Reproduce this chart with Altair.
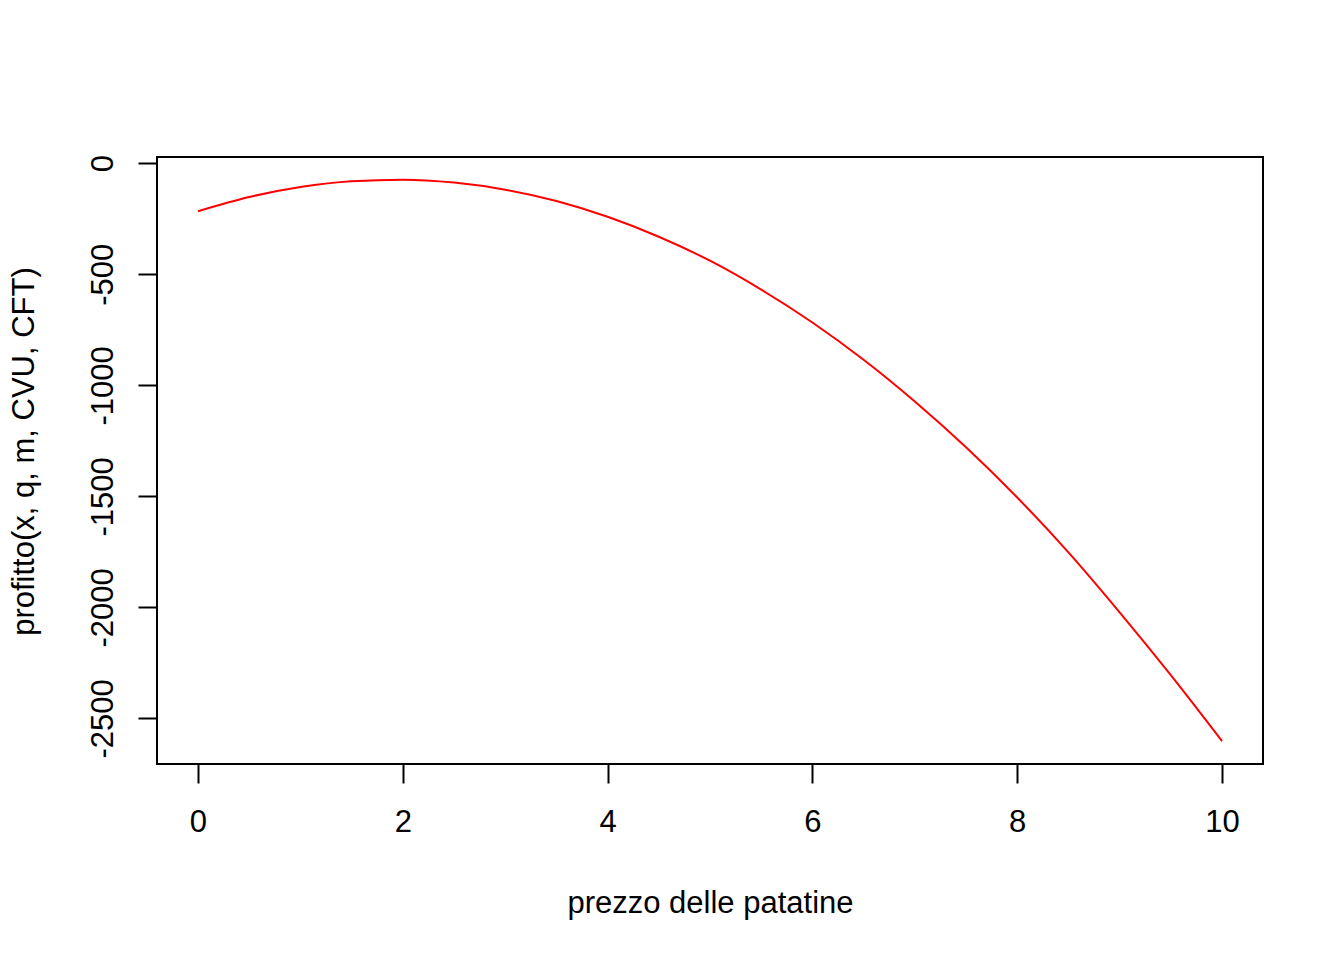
import altair as alt
import pandas as pd

# prezzo (x) and profit
prezzo = [0, 0.5, 1, 1.5, 2, 2.5, 3, 3.5, 4, 4.5, 5, 5.5, 6, 6.5, 7, 7.5, 8, 8.5, 9, 9.5, 10]
profitto = [-216, -152, -107, -81, -74, -87, -119, -170, -241, -331, -439,
            -569, -717, -885, -1073, -1279, -1505, -1752, -2022, -2305, -2602]

x_ticks = [0, 2, 4, 6, 8, 10]
y_ticks = [0, -500, -1000, -1500, -2000, -2500]

df = pd.DataFrame({"prezzo": prezzo, "profitto": profitto})

FONT = "Liberation Sans"
FS = 31

chart = (
    alt.Chart(df)
    .mark_line(color="#FF0000", strokeWidth=2, interpolate="monotone")
    .encode(
        x=alt.X(
            "prezzo:Q",
            scale=alt.Scale(domain=[-0.4, 10.4], nice=False, zero=False),
            axis=alt.Axis(
                values=x_ticks,
                labelExpr="'' + datum.value",
                title="prezzo delle patatine",
                domain=False,
                grid=False,
                tickSize=19,
                tickWidth=2,
                tickColor="black",
                labelPadding=48,
                labelBaseline="alphabetic",
                labelFlush=False,
                labelOverlap=False,
                labelFont=FONT,
                labelFontSize=FS,
                labelColor="black",
                titleFont=FONT,
                titleFontSize=FS,
                titleFontWeight="normal",
                titleColor="black",
                titleX=553,
                titleY=148,
                titleBaseline="alphabetic",
                titleAlign="center",
            ),
        ),
        y=alt.Y(
            "profitto:Q",
            scale=alt.Scale(domain=[-2705, 28], nice=False, zero=False),
            axis=alt.Axis(
                values=y_ticks,
                labelExpr="'' + datum.value",
                title="profitto(x, q, m, CVU, CFT)",
                domain=False,
                grid=False,
                tickSize=19,
                tickWidth=2,
                tickColor="black",
                labelAngle=270,
                labelAlign="center",
                labelBaseline="alphabetic",
                labelPadding=26,
                labelFlush=False,
                labelOverlap=False,
                labelFont=FONT,
                labelFontSize=FS,
                labelColor="black",
                titleFont=FONT,
                titleFontSize=FS,
                titleFontWeight="normal",
                titleColor="black",
                titleAngle=270,
                titleX=-124,
                titleY=294,
                titleBaseline="alphabetic",
                titleAlign="center",
            ),
        ),
    )
    .properties(
        width=1106,
        height=607,
        background="white",
        autosize=alt.AutoSizeParams(type="none"),
        padding={"left": 149, "top": 149, "right": 73, "bottom": 188},
    )
    .configure_view(stroke="black", strokeWidth=2)
)

chart.save("out.html", embed_options={"renderer": "svg", "actions": False})
